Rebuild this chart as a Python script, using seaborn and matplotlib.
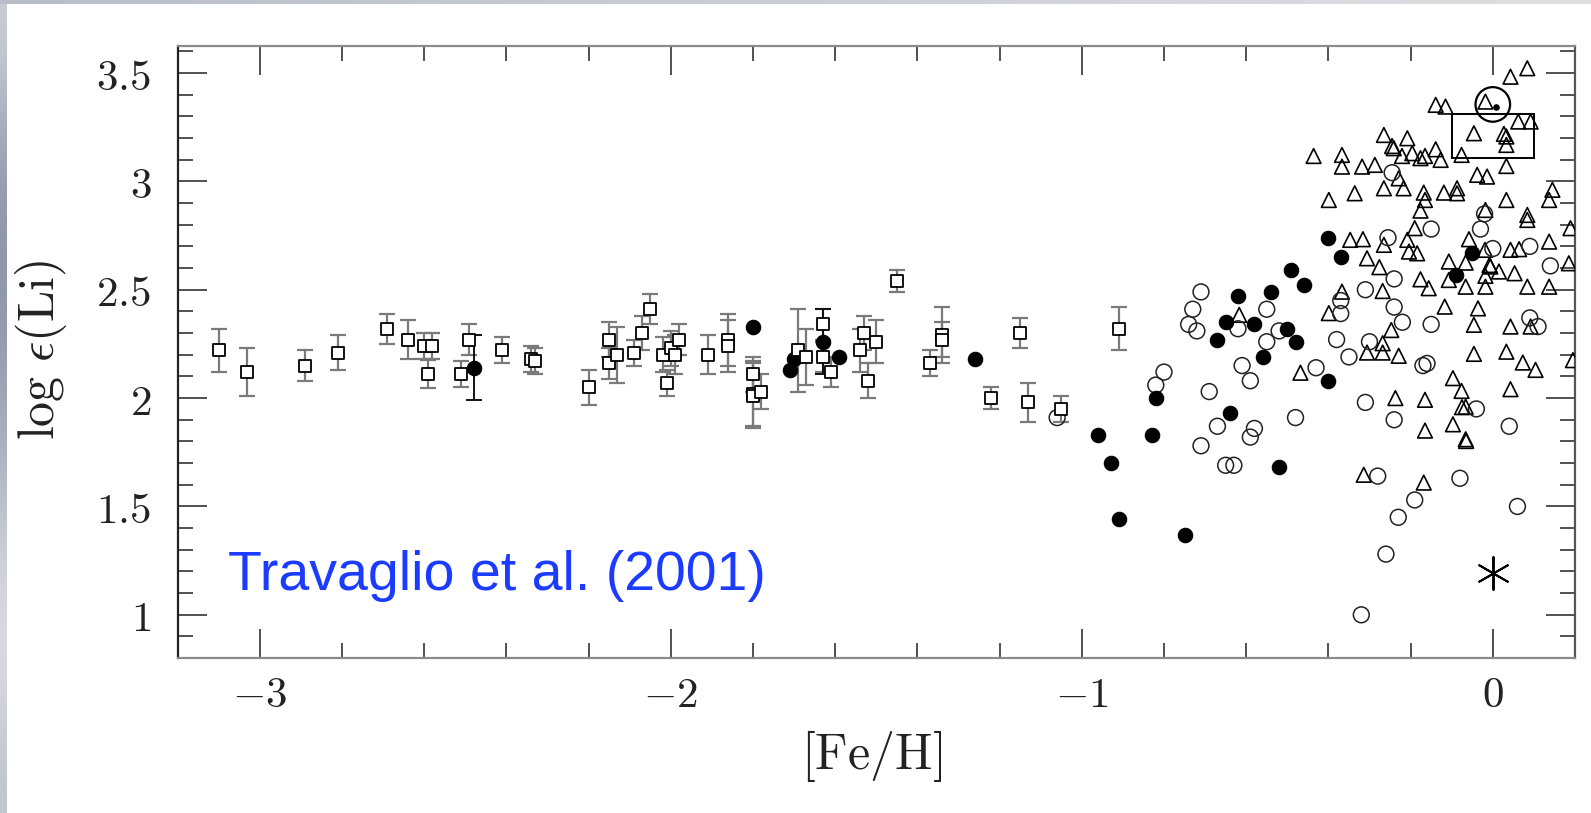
import numpy as np
import pandas as pd
import matplotlib
matplotlib.use("Agg")
import matplotlib.pyplot as plt
from matplotlib.patches import Rectangle
import seaborn as sns

# ---------------- data ----------------
# Halo stars with error bars (open squares)
sq_feh = [-3.10, -3.03, -2.89, -2.81, -2.69, -2.64, -2.60, -2.58, -2.59, -2.51,
          -2.49, -2.41, -2.34, -2.33, -2.20, -2.15, -2.15, -2.13, -2.09, -2.07,
          -2.05, -2.02, -2.01, -2.00, -1.99, -1.98, -1.91, -1.86, -1.86, -1.80,
          -1.80, -1.80, -1.78, -1.69, -1.67, -1.63, -1.63, -1.61, -1.54, -1.53,
          -1.50, -1.52, -1.45, -1.37, -1.34, -1.34, -1.22, -1.15, -1.13, -1.05,
          -0.91]
sq_li = [2.22, 2.12, 2.15, 2.21, 2.32, 2.27, 2.24, 2.24, 2.11, 2.11,
         2.27, 2.22, 2.18, 2.17, 2.05, 2.27, 2.16, 2.20, 2.21, 2.30,
         2.41, 2.20, 2.07, 2.23, 2.20, 2.27, 2.20, 2.27, 2.24, 2.11,
         2.02, 2.01, 2.03, 2.22, 2.19, 2.34, 2.19, 2.12, 2.22, 2.30,
         2.26, 2.08, 2.54, 2.16, 2.29, 2.27, 2.00, 2.30, 1.98, 1.95,
         2.32]
sq_err = [0.10, 0.11, 0.07, 0.08, 0.07, 0.09, 0.06, 0.06, 0.065, 0.06,
          0.07, 0.06, 0.06, 0.06, 0.08, 0.08, 0.07, 0.13, 0.06, 0.08,
          0.07, 0.08, 0.06, 0.08, 0.09, 0.07, 0.09, 0.12, 0.12, 0.08,
          0.15, 0.15, 0.08, 0.19, 0.13, 0.07, 0.07, 0.07, 0.10, 0.08,
          0.10, 0.08, 0.05, 0.06, 0.13, 0.08, 0.05, 0.07, 0.09, 0.06,
          0.10]

# Filled circles
fc_feh = [-2.48, -1.80, -1.71, -1.70, -1.63, -1.59, -1.26, -0.96, -0.93, -0.91,
          -0.83, -0.82, -0.75, -0.67, -0.65, -0.64, -0.62, -0.58, -0.56, -0.54,
          -0.52, -0.50, -0.49, -0.48, -0.46, -0.40, -0.40, -0.37, -0.09, -0.05]
fc_li = [2.14, 2.33, 2.13, 2.18, 2.26, 2.19, 2.18, 1.83, 1.70, 1.44,
         1.83, 2.00, 1.37, 2.27, 2.35, 1.93, 2.47, 2.34, 2.19, 2.49,
         1.68, 2.32, 2.59, 2.26, 2.52, 2.74, 2.08, 2.65, 2.57, 2.67]
fc_err_feh = [-2.48, -1.63]
fc_err_li = [2.14, 2.26]
fc_err = [0.15, 0.15]

# Open circles
oc_feh = [-1.06, -0.82, -0.80, -0.74, -0.72, -0.73, -0.71, -0.69, -0.71, -0.67,
          -0.65, -0.63, -0.62, -0.61, -0.59, -0.58, -0.59, -0.55, -0.55, -0.52,
          -0.48, -0.43, -0.38, -0.37, -0.37, -0.35, -0.32, -0.31, -0.31, -0.30,
          -0.28, -0.26, -0.255, -0.245, -0.24, -0.24, -0.24, -0.23, -0.22, -0.19,
          -0.17, -0.16, -0.15, -0.15, -0.08, -0.04, -0.03, -0.02, 0.00, 0.04,
          0.06, 0.09, 0.09, 0.11, 0.14]
oc_li = [1.91, 2.06, 2.12, 2.34, 2.31, 2.41, 2.49, 2.03, 1.78, 1.87,
         1.69, 1.69, 2.32, 2.15, 2.08, 1.86, 1.82, 2.41, 2.26, 2.31,
         1.91, 2.14, 2.27, 2.45, 2.39, 2.19, 1.00, 2.50, 1.98, 2.26,
         1.64, 1.28, 2.74, 3.04, 2.55, 2.42, 1.90, 1.45, 2.35, 1.53,
         2.15, 2.16, 2.34, 2.78, 1.63, 1.95, 2.78, 2.85, 2.69, 1.87,
         1.50, 2.70, 2.37, 2.33, 2.61]

# Open triangles
tr_feh = [0.084, 0.043, -0.018, -0.139, -0.115, 0.062, 0.092, -0.046, 0.027, 0.033,
          0.033, -0.076, 0.033, -0.038, -0.014, 0.033, 0.145, 0.137, -0.018, 0.084,
          0.084, 0.189, -0.058, -0.019, 0.043, 0.064, 0.137, 0.185, -0.107, -0.066,
          -0.006, 0.015, 0.053, -0.018, -0.107, -0.066, -0.018, 0.084, 0.137, -0.176,
          -0.156, -0.268, -0.367, -0.117, -0.036, -0.046, 0.043, 0.092, -0.247, -0.436,
          -0.367, -0.367, -0.318, -0.287, -0.265, -0.208, -0.245, -0.241, -0.221, -0.196,
          -0.176, -0.165, -0.139, -0.127, -0.229, -0.217, -0.265, -0.336, -0.399, -0.168,
          -0.165, -0.176, -0.119, -0.087, -0.087, -0.190, -0.208, -0.204, -0.184, -0.347,
          -0.316, -0.265, -0.306, -0.276, -0.399, -0.617, -0.468, -0.306, -0.268, -0.268,
          -0.229, -0.237, -0.314, -0.168, -0.065, 0.043, -0.097, -0.076, -0.075, -0.066,
          -0.097, -0.066, -0.165, -0.165, -0.046, 0.033, 0.073, 0.104, 0.195, -0.008]
tr_li = [3.522, 3.483, 3.368, 3.353, 3.345, 3.276, 3.276, 3.222, 3.219, 3.207,
         3.168, 3.122, 3.071, 3.030, 3.022, 2.914, 2.961, 2.914, 2.868, 2.845,
         2.822, 2.784, 2.733, 2.684, 2.684, 2.687, 2.722, 2.622, 2.630, 2.625,
         2.607, 2.584, 2.576, 2.564, 2.545, 2.514, 2.514, 2.514, 2.514, 2.548,
         2.507, 2.494, 2.491, 2.422, 2.414, 2.338, 2.330, 2.330, 2.314, 3.117,
         3.122, 3.068, 3.068, 3.076, 3.214, 3.199, 3.163, 3.153, 3.117, 3.130,
         3.107, 3.117, 3.148, 3.099, 3.014, 2.968, 2.968, 2.945, 2.914, 2.948,
         2.914, 2.865, 2.948, 2.968, 2.945, 2.784, 2.730, 2.676, 2.668, 2.730,
         2.733, 2.707, 2.645, 2.604, 2.392, 2.384, 2.117, 2.210, 2.210, 2.253,
         2.195, 2.000, 1.646, 1.610, 1.802, 2.041, 2.092, 2.033, 1.958, 1.960,
         1.879, 1.810, 1.850, 1.992, 2.204, 2.214, 2.164, 2.130, 2.175, 2.614]

# Sun (photospheric), meteoritic box, and the Sun symbol
sun_phot = (0.0, 1.195)
sun_symbol = (0.0, 3.355)
meteor_box = (-0.10, 3.11, 0.20, 0.20)   # x0, y0, width, height

x_ticks = [-3, -2, -1, 0]
y_ticks = [1, 1.5, 2, 2.5, 3, 3.5]
x_ticklabels = [r"$-3$", r"$-2$", r"$-1$", r"$0$"]
y_ticklabels = [r"$1$", r"$1.5$", r"$2$", r"$2.5$", r"$3$", r"$3.5$"]

# ---------------- style ----------------
sns.set_style("ticks")
plt.rcParams["font.family"] = ["DejaVu Sans"]
plt.rcParams["mathtext.fontset"] = "cm"

W, H = 1591, 813
fig = plt.figure(figsize=(W / 100, H / 100), dpi=100)
fig.patch.set_facecolor("white")

# slide-like gray strips at left and top
grad = np.array([[0.82], [0.62], [0.56], [0.60], [0.70], [0.84], [0.90], [0.78]])
lax = fig.add_axes([0, 0, 7 / W, 1])
cmap = matplotlib.colors.LinearSegmentedColormap.from_list(
    "slide", ["#8a92a6", "#e2e3e6"])
lax.imshow(grad, aspect="auto", cmap=cmap, vmin=0.55, vmax=0.92,
           interpolation="bicubic")
lax.axis("off")
tax = fig.add_axes([0, 1 - 4 / H, 1, 4 / H])
tax.imshow(np.linspace(0.75, 0.9, 50)[None, :], aspect="auto", cmap=cmap,
           vmin=0.55, vmax=0.92)
tax.axis("off")

left, right, top, bottom = 177.6, 1575.0, 45.7, 657.5
ax = fig.add_axes([left / W, 1 - bottom / H, (right - left) / W, (bottom - top) / H])

# error bars
ax.errorbar(sq_feh, sq_li, yerr=sq_err, fmt="none", ecolor="#7a7a7a",
            elinewidth=1.6, capsize=5.5, capthick=1.6, zorder=2)
ax.errorbar(fc_err_feh, fc_err_li, yerr=fc_err, fmt="none", ecolor="#111111",
            elinewidth=1.4, capsize=5.5, capthick=1.4, zorder=2)

sq_df = pd.DataFrame({"feh": sq_feh, "li": sq_li})
fc_df = pd.DataFrame({"feh": fc_feh, "li": fc_li})
oc_df = pd.DataFrame({"feh": oc_feh, "li": oc_li})
tr_df = pd.DataFrame({"feh": tr_feh, "li": tr_li})

sns.scatterplot(data=tr_df, x="feh", y="li", ax=ax, marker="^", s=112,
                facecolors="none", edgecolors="black", linewidth=1.2, zorder=3)
sns.scatterplot(data=oc_df, x="feh", y="li", ax=ax, marker="o", s=130,
                facecolors="none", edgecolors="#222222", linewidth=1.1, zorder=3)
sns.scatterplot(data=fc_df, x="feh", y="li", ax=ax, marker="o", s=108,
                color="black", edgecolor="black", linewidth=0.8, zorder=4)
sns.scatterplot(data=sq_df, x="feh", y="li", ax=ax, marker="s", s=72,
                facecolors="white", edgecolors="black", linewidth=1.3, zorder=4)

# Sun symbols
ax.scatter([sun_symbol[0]], [sun_symbol[1]], marker="o", s=620,
           facecolors="none", edgecolors="black", linewidths=1.6, zorder=5)
ax.scatter([sun_symbol[0] + 0.008], [sun_symbol[1] - 0.01], marker="o", s=14,
           color="black", zorder=5)
ax.scatter([sun_phot[0]], [sun_phot[1]], marker=(6, 2, 0), s=560,
           color="black", linewidths=1.4, zorder=5)
ax.add_patch(Rectangle((meteor_box[0], meteor_box[1]), meteor_box[2], meteor_box[3],
                       fill=False, edgecolor="black", linewidth=1.4, zorder=5))

# axes
ax.set_xlim(-3.2, 0.2)
ax.set_ylim(0.803, 3.626)
ax.set_xticks(x_ticks)
ax.set_xticklabels(x_ticklabels)
ax.set_yticks(y_ticks)
ax.set_yticklabels(y_ticklabels)
ax.xaxis.set_minor_locator(matplotlib.ticker.MultipleLocator(0.2))
ax.yaxis.set_minor_locator(matplotlib.ticker.MultipleLocator(0.1))
ax.tick_params(which="both", direction="in", top=True, right=True,
               colors="#333333", labelcolor="#222222")
ax.tick_params(which="major", length=21, width=1.2, labelsize=31)
ax.tick_params(which="minor", length=11, width=1.2)
ax.tick_params(axis="x", which="major", pad=12)
ax.tick_params(axis="y", which="major", pad=19)
for side, col in [("left", "#222222"), ("right", "#555555"),
                  ("top", "#8a8a8a"), ("bottom", "#8a8a8a")]:
    ax.spines[side].set_color(col)
    ax.spines[side].set_linewidth(1.6)

ax.set_xlabel(r"$[\mathrm{Fe/H}]$", fontsize=36, color="#222222", va="center")
ax.set_ylabel(r"$\log\,\epsilon(\mathrm{Li})$", fontsize=36, color="#222222",
              va="center")
ax.xaxis.set_label_coords((872 - left) / (right - left), (bottom - 756) / (bottom - top))
ax.yaxis.set_label_coords((41 - left) / (right - left), (bottom - 350) / (bottom - top))

ax.text((228 - left) / (right - left), (bottom - 576) / (bottom - top),
        "Travaglio et al. (2001)", transform=ax.transAxes, ha="left", va="center",
        fontsize=40, color="#1b3cff", family=["Liberation Sans", "DejaVu Sans"])

fig.savefig("out.png", dpi=100, facecolor="white")
